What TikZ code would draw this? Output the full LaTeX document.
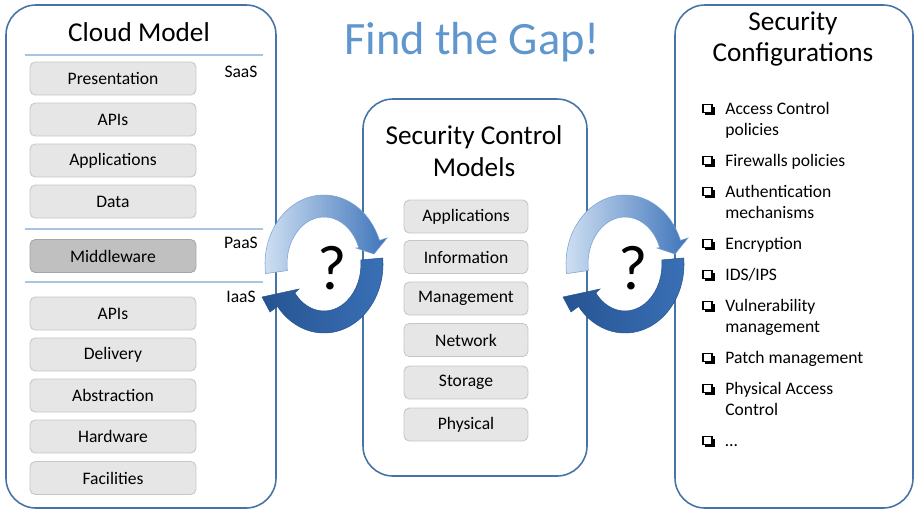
\documentclass[tikz,border=0pt]{standalone}
\usepackage{fontspec}
\setmainfont{Carlito}

\definecolor{panelblue}{RGB}{70,116,166}
\definecolor{lineblue}{RGB}{168,196,224}
\definecolor{boxgray}{RGB}{230,230,230}
\definecolor{boxedge}{RGB}{198,198,198}
\definecolor{midgray}{RGB}{192,192,192}
\definecolor{midedge}{RGB}{165,165,165}
\definecolor{gapblue}{RGB}{96,150,206}
\definecolor{arrowlight}{RGB}{210,226,244}
\definecolor{arrowmid}{RGB}{62,116,186}
\definecolor{arrowedge}{RGB}{120,160,210}
\definecolor{arrowdark}{RGB}{38,84,146}
\definecolor{arrowdeep}{RGB}{58,112,182}

\begin{document}
\begin{tikzpicture}[x=0.02cm, y=-0.02cm,
    panel/.style={draw=panelblue, line width=0.9pt, rounded corners=0.6cm},
    sep/.style={draw=lineblue, line width=0.7pt},
    paneltitle/.style={align=center, font=\fontsize{15.5}{18}\selectfont},
    layer/.style={draw=boxedge, fill=boxgray, rounded corners=3pt, line width=0.5pt,
        minimum width=3.32cm, minimum height=0.66cm, font=\fontsize{10}{12}\selectfont},
    ctrl/.style={layer, minimum width=2.48cm},
    tag/.style={font=\fontsize{10}{12}\selectfont},
    item/.style={anchor=base west, align=left, inner sep=0pt, font=\fontsize{10}{11.9}\selectfont},
    upperarrow/.style={left color=arrowlight, right color=arrowmid, draw=arrowedge, line width=0.3pt},
    lowerarrow/.style={left color=arrowdark, right color=arrowdeep, draw=arrowdark, line width=0.3pt},
    ask/.style={font=\fontsize{36}{40}\selectfont}]
    \useasboundingbox (0,0) rectangle (916,511);

    % The three rounded panels
    \draw[panel] (6,5) rectangle (276,508);
    \draw[panel] (363,99) rectangle (587,476);
    \draw[panel] (675,5) rectangle (913,508);

    % Heading in the middle
    \node[gapblue, font=\fontsize{26.4}{30}\selectfont] (gap) at (472,42) {Find the Gap!};

    % Cloud model stack
    \node[paneltitle] (cloud) at (139,32) {Cloud Model};
    \draw[sep] (25,55) -- (263,55);
    \draw[sep] (25,229) -- (263,229);
    \draw[sep] (25,282) -- (263,282);
    \node[tag] (saas) at (241,72) {SaaS};
    \node[tag] (paas) at (241,243) {PaaS};
    \node[tag] (iaas) at (241,297) {IaaS};
    \node[layer] (pres) at (113,78.5) {Presentation};
    \node[layer] (apis) at (113,119.5) {APIs};
    \node[layer] (apps) at (113,160.5) {Applications};
    \node[layer] (data) at (113,201.5) {Data};
    \node[layer, fill=midgray, draw=midedge] (midw) at (113,256) {Middleware};
    \node[layer] (iapis) at (113,313.5) {APIs};
    \node[layer] (deliv) at (113,354.5) {Delivery};
    \node[layer] (abstr) at (113,395.5) {Abstraction};
    \node[layer] (hardw) at (113,436.5) {Hardware};
    \node[layer] (facil) at (113,478) {Facilities};

    % Security control models
    \node[paneltitle, font=\fontsize{15.5}{18.1}\selectfont] (scm) at (474,151) {Security Control\\Models};
    \node[ctrl] (capps) at (466,216.5) {Applications};
    \node[ctrl] (cinfo) at (466,257) {Information};
    \node[ctrl] (cmgmt) at (466,298.5) {Management};
    \node[ctrl] (cnet) at (466,340) {Network};
    \node[ctrl] (cstor) at (466,382.5) {Storage};
    \node[ctrl] (cphys) at (466,424.5) {Physical};

    % Security configurations list
    \node[paneltitle, font=\fontsize{15.5}{17.6}\selectfont] (sconf) at (793,39) {Security\\Configurations};
    \foreach \y in {109,161,192,244,275,306,358,389,441} {
        \fill[black] (705,\y-2.5) rectangle (714.5,\y+5.5);
        \draw[black, line width=0.6pt, fill=white] (703,\y-4.5) rectangle (712,\y+3.5);
    }
    % (base of a two-line item is its last line)
    \node[item] (acc) at (725,135) {Access Control\\policies};
    \node[item] (fw) at (725,166) {Firewalls policies};
    \node[item] (auth) at (725,218) {Authentication\\mechanisms};
    \node[item] (enc) at (725,249) {Encryption};
    \node[item] (ids) at (725,280) {IDS/IPS};
    \node[item] (vuln) at (725,332) {Vulnerability\\management};
    \node[item] (patch) at (725,363) {Patch management};
    \node[item] (pac) at (725,415) {Physical Access\\Control};
    \node[item] (more) at (725,446) {…};

    % Circular arrows with the question marks
    \foreach \cx/\q in {324/qleft, 625/qright} {
        \begin{scope}[shift={(\cx,264)}]
            \path[upperarrow] (172:59 and 69) arc[start angle=172, end angle=340, x radius=59, y radius=69]
                -- (63,-26) -- (50,-10) -- (32,-16) -- (340:37 and 47)
                arc[start angle=340, end angle=172, x radius=37, y radius=47] -- cycle;
            \path[lowerarrow] (-5:59 and 69) arc[start angle=-5, end angle=142, x radius=59, y radius=69]
                -- (-54,48) -- (-62,33) -- (-25,25) -- (142:37 and 47)
                arc[start angle=142, end angle=-5, x radius=37, y radius=47] -- cycle;
            \node[ask] (\q) at (8,4) {?};
        \end{scope}
    }
\end{tikzpicture}
\end{document}
